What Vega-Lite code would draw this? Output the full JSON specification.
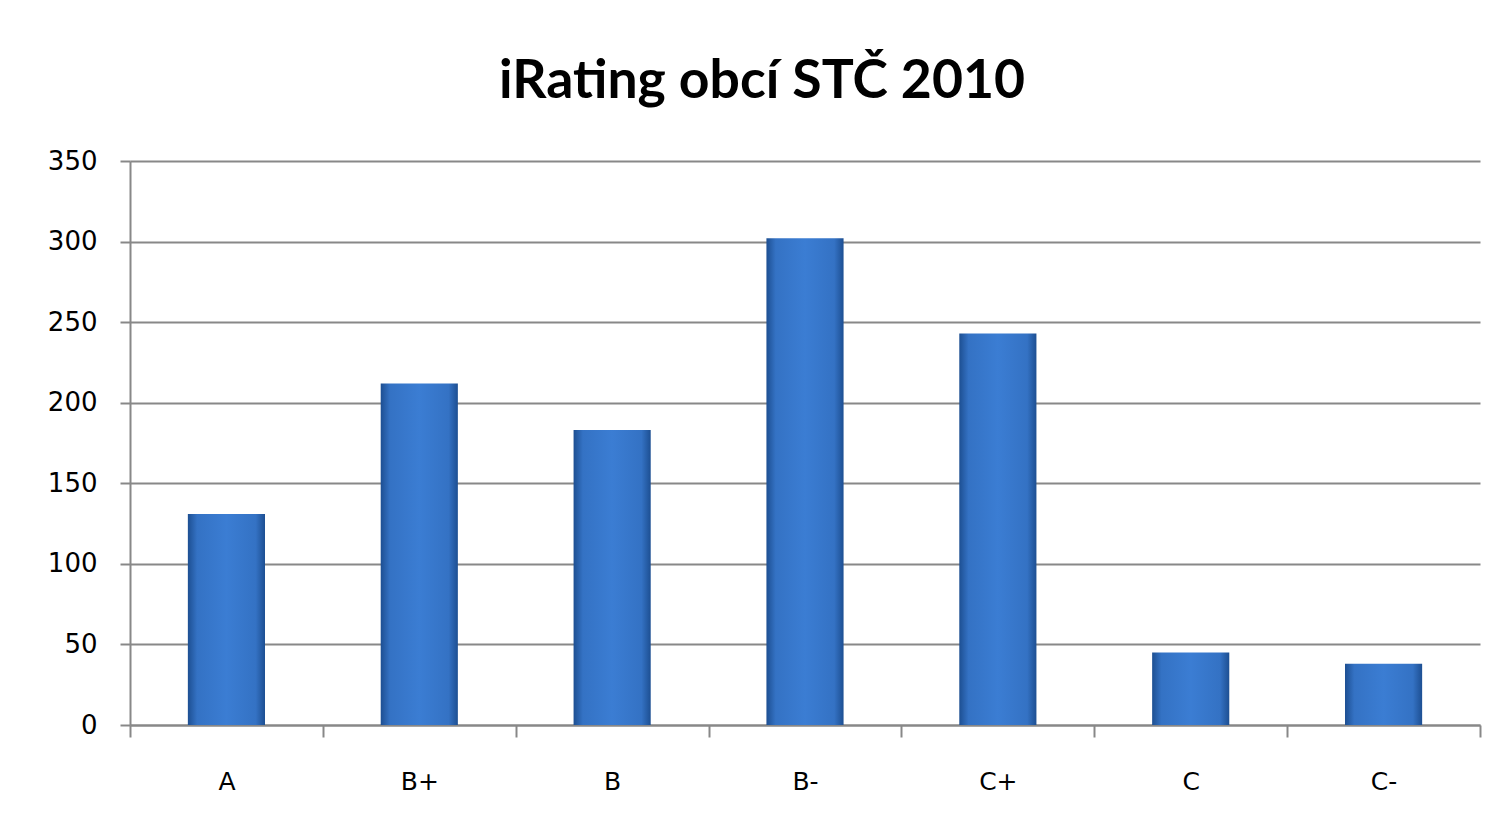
{
  "$schema": "https://vega.github.io/schema/vega-lite/v6.json",
  "width": 1350,
  "height": 564,
  "autosize": {"type": "none"},
  "padding": {"left": 130, "top": 161, "right": 24, "bottom": 113},
  "background": "white",
  "title": {
    "text": "iRating obcí STČ 2010",
    "font": "Lato",
    "fontSize": 53.5,
    "fontWeight": "bold",
    "color": "#000000",
    "anchor": "middle",
    "frame": "group",
    "offset": 39,
    "dx": -43
  },
  "data": {
    "values": [
      {"grade": "A", "count": 131},
      {"grade": "B+", "count": 212},
      {"grade": "B", "count": 183},
      {"grade": "B-", "count": 302},
      {"grade": "C+", "count": 243},
      {"grade": "C", "count": 45},
      {"grade": "C-", "count": 38}
    ]
  },
  "mark": {
    "type": "bar",
    "width": {"band": 0.4},
    "color": {
      "gradient": "linear",
      "x1": 0, "y1": 0, "x2": 1, "y2": 0,
      "stops": [
        {"offset": 0, "color": "#1d4f92"},
        {"offset": 0.12, "color": "#3472c4"},
        {"offset": 0.5, "color": "#3b7dd3"},
        {"offset": 0.88, "color": "#3472c4"},
        {"offset": 1, "color": "#1d4f92"}
      ]
    }
  },
  "encoding": {
    "x": {
      "field": "grade",
      "type": "nominal",
      "sort": null,
      "scale": {"paddingInner": 0, "paddingOuter": 0},
      "axis": {
        "title": null,
        "tickBand": "extent",
        "labelAngle": 0,
        "labelFont": "DejaVu Sans",
        "labelFontSize": 25,
        "labelColor": "#000000",
        "labelPadding": 32,
        "tickSize": 12,
        "tickColor": "#888888",
        "domainColor": "#888888",
        "domainWidth": 2,
        "tickWidth": 2,
        "grid": false
      }
    },
    "y": {
      "field": "count",
      "type": "quantitative",
      "scale": {"domain": [0, 350], "nice": false},
      "axis": {
        "title": null,
        "values": [0, 50, 100, 150, 200, 250, 300, 350],
        "labelFont": "DejaVu Sans",
        "labelFontSize": 26,
        "labelColor": "#000000",
        "labelPadding": 23,
        "tickSize": 10,
        "tickColor": "#888888",
        "tickWidth": 2,
        "domainColor": "#888888",
        "domainWidth": 2,
        "grid": true,
        "gridColor": "#888888",
        "gridWidth": 2
      }
    }
  },
  "config": {"view": {"stroke": null}}
}
